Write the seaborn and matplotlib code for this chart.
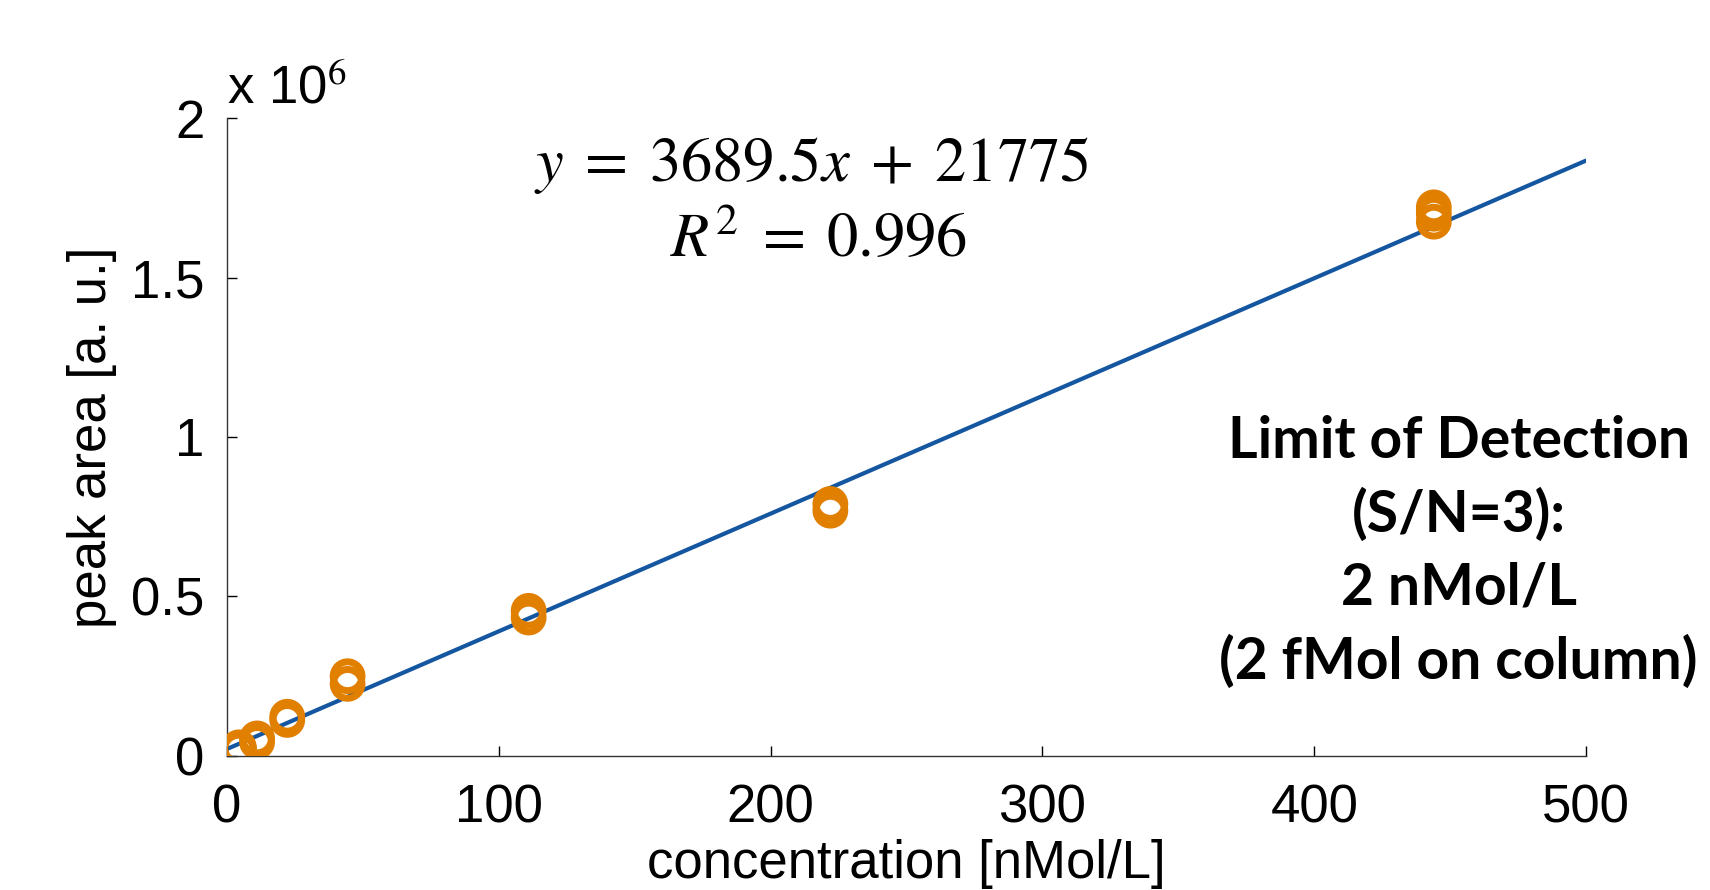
import numpy as np
import pandas as pd
import matplotlib
matplotlib.use("Agg")
import matplotlib.pyplot as plt
import seaborn as sns

# calibration data
concentration = [4.4, 4.4, 11.1, 11.1, 22.2, 22.2, 44.4, 44.4,
                 111, 111, 222, 222, 444, 444, 444]
peak_area = [0.027e6, 0.020e6, 0.055e6, 0.044e6, 0.123e6, 0.113e6, 0.250e6, 0.226e6,
             0.455e6, 0.434e6, 0.790e6, 0.769e6, 1.720e6, 1.700e6, 1.675e6]
slope = 3689.5
intercept = 21775
fit_range = [0, 500]
x_ticks = [0, 100, 200, 300, 400, 500]
y_ticks = [0, 0.5e6, 1e6, 1.5e6, 2e6]
y_ticklabels = ["0", "0.5", "1", "1.5", "2"]
lod_lines = ["Limit of Detection", "(S/N=3):", "2 nMol/L", "(2 fMol on column)"]

sns.set_style("white")
plt.rcParams['font.family'] = ['Liberation Sans', 'DejaVu Sans']
plt.rcParams['mathtext.fontset'] = 'stix'
plt.rcParams['text.color'] = 'black'
plt.rcParams['axes.labelcolor'] = 'black'
plt.rcParams['xtick.color'] = 'black'
plt.rcParams['ytick.color'] = 'black'

df = pd.DataFrame({'concentration': concentration, 'peak_area': peak_area})
fit = pd.DataFrame({'x': fit_range})
fit['y'] = slope * fit['x'] + intercept

fig = plt.figure(figsize=(17.1, 8.9), dpi=100)
ax = fig.add_axes([0.1327, 0.1506, 0.7948, 0.7168])

sns.lineplot(data=fit, x='x', y='y', color='#1456a0', linewidth=3.0, ax=ax)
sns.scatterplot(data=df, x='concentration', y='peak_area', marker='o', s=430,
                facecolors='none', edgecolor='#e07f00', linewidth=5, ax=ax, zorder=3)

ax.set_xlim(0, 500)
ax.set_ylim(0, 2e6)
ax.set_xticks(x_ticks)
ax.set_xticklabels([str(t) for t in x_ticks])
ax.set_yticks(y_ticks)
ax.set_yticklabels(y_ticklabels)
ax.tick_params(direction='in', length=7, width=1, labelsize=38,
               bottom=True, left=True)
ax.tick_params(axis='x', pad=20)
ax.tick_params(axis='y', pad=16)
for s in ['top', 'right']:
    ax.spines[s].set_visible(False)
for s in ['left', 'bottom']:
    ax.spines[s].set_color('#333333')
    ax.spines[s].set_linewidth(1)

ax.set_xlabel("concentration [nMol/L]", fontsize=38, labelpad=4)
ax.set_ylabel("peak area [a. u.]", fontsize=38, labelpad=10)

ax.text(0.0, 1.005, r"x 10$^{6}$", transform=ax.transAxes, fontsize=38,
        ha='left', va='bottom')

ax.text(0.43, 0.925, r"$y\;=\;3689.5x\;+\;21775$", transform=ax.transAxes,
        fontsize=45, ha='center', va='center')
ax.text(0.435, 0.81, r"$R^2\;=\;0.996$", transform=ax.transAxes,
        fontsize=45, ha='center', va='center')

fig.text(0.853, 0.38, "\n".join(lod_lines), fontsize=41, fontweight='bold',
         family=['Lato', 'DejaVu Sans'], ha='center', va='center', linespacing=1.45)

fig.savefig("out.png", dpi=100)
